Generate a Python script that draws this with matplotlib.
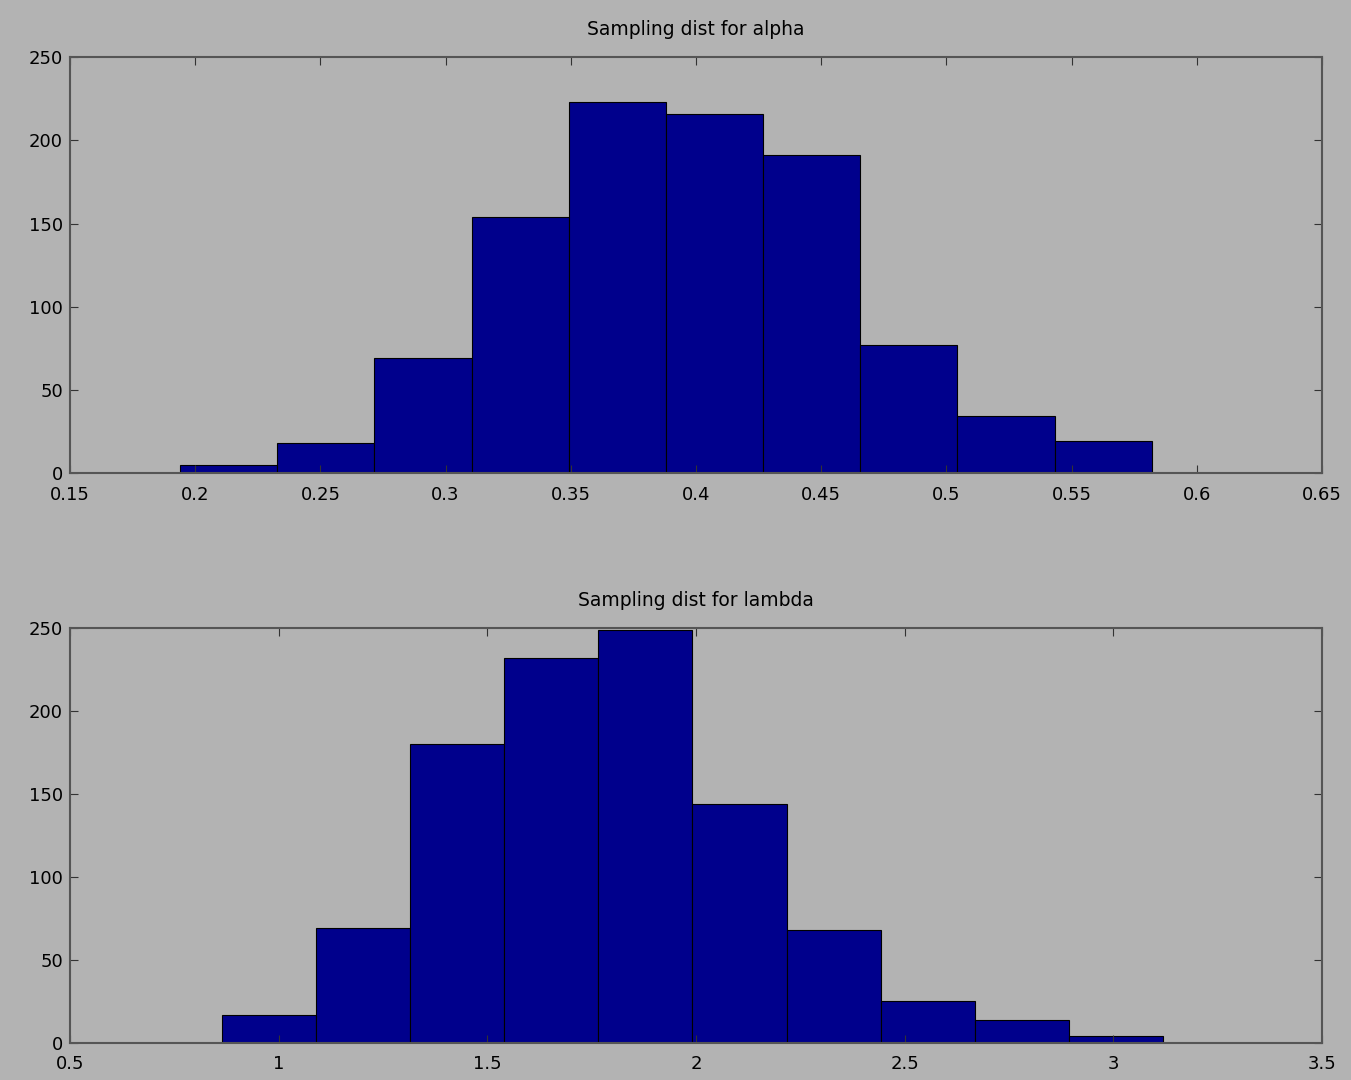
import numpy as np
import matplotlib.pyplot as plt

# bin edges and counts
alpha_edges = [0.194, 0.2328, 0.2716, 0.3104, 0.3492, 0.388, 0.4268, 0.4656, 0.5044, 0.5432, 0.582]
alpha_counts = [5, 18, 69, 154, 223, 216, 191, 77, 34, 19]
lambda_edges = [0.864, 1.0895, 1.315, 1.5405, 1.766, 1.9915, 2.217, 2.4425, 2.668, 2.8935, 3.119]
lambda_counts = [17, 69, 180, 232, 249, 144, 68, 25, 14, 4]

bg = '#b3b3b3'
bar_col = '#00008c'

fig = plt.figure(figsize=(13.51, 10.8), dpi=100, facecolor=bg)
ax1 = fig.add_axes([0.0518, 0.562, 0.9267, 0.385])
ax2 = fig.add_axes([0.0518, 0.0343, 0.9267, 0.384])

def draw(ax, edges, counts, title, xlim, xticks, xlabels):
    edges = np.array(edges)
    ax.bar(edges[:-1], counts, width=np.diff(edges), align='edge',
           color=bar_col, edgecolor='black', linewidth=0.8)
    ax.set_facecolor(bg)
    ax.set_xlim(xlim)
    ax.set_ylim(0, 250)
    ax.set_xticks(xticks)
    ax.set_xticklabels(xlabels)
    ax.set_yticks([0, 50, 100, 150, 200, 250])
    ax.tick_params(direction='in', top=True, right=True, length=6,
                   labelsize=13, color='#333333')
    ax.tick_params(axis='x', pad=9)
    ax.tick_params(axis='y', pad=5)
    for s in ax.spines.values():
        s.set_color('#555555')
        s.set_linewidth(1.5)
    ax.set_title(title, fontsize=13.5, pad=16)

draw(ax1, alpha_edges, alpha_counts, 'Sampling dist for alpha', (0.15, 0.65),
     np.arange(0.15, 0.651, 0.05),
     ['0.15', '0.2', '0.25', '0.3', '0.35', '0.4', '0.45', '0.5', '0.55', '0.6', '0.65'])
draw(ax2, lambda_edges, lambda_counts, 'Sampling dist for lambda', (0.5, 3.5),
     np.arange(0.5, 3.51, 0.5),
     ['0.5', '1', '1.5', '2', '2.5', '3', '3.5'])

fig.savefig('out.png', facecolor=bg)
